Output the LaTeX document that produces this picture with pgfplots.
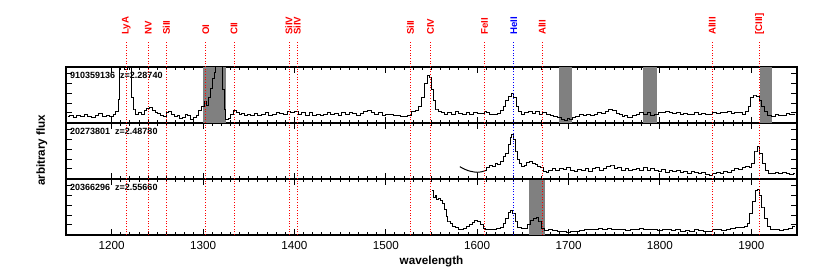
\documentclass[border=0pt]{standalone}
\usepackage{fontspec}
\setmainfont{Liberation Sans}
\usepackage{pgfplots}
\pgfplotsset{compat=1.18}

\pgfplotstableread{
x y
1152 0.12
1156 0.14
1160 0.10
1164 0.13
1168 0.11
1172 0.15
1176 0.12
1180 0.10
1184 0.13
1188 0.17
1192 0.12
1196 0.14
1200 0.11
1203 0.16
1206 0.20
1208 0.42
1210 1.3
1213 1.4
1216 0.95
1218 1.5
1221 1.2
1223 0.45
1225 0.25
1228 0.16
1231 0.18
1234 0.15
1237 0.22
1240 0.26
1243 0.27
1246 0.22
1249 0.18
1252 0.17
1255 0.14
1258 0.12
1261 0.18
1264 0.20
1267 0.15
1270 0.11
1273 0.14
1276 0.08
1279 0.10
1282 0.16
1285 0.14
1288 0.07
1291 0.10
1294 0.14
1297 0.22
1300 0.30
1303 0.38
1305 0.32
1307 0.45
1309 0.62
1311 0.80
1313 0.90
1315 1.2
1318 1.3
1320 1.1
1322 0.60
1324 0.25
1326 0.06
1329 0.08
1332 0.16
1335 0.22
1338 0.19
1341 0.15
1344 0.17
1347 0.13
1350 0.15
1354 0.14
1358 0.17
1362 0.13
1366 0.15
1370 0.18
1374 0.14
1378 0.16
1382 0.19
1386 0.17
1390 0.15
1394 0.20
1398 0.18
1402 0.21
1406 0.16
1410 0.18
1414 0.14
1418 0.19
1422 0.13
1426 0.15
1430 0.14
1434 0.16
1438 0.18
1442 0.15
1446 0.17
1450 0.14
1454 0.18
1458 0.16
1462 0.19
1466 0.17
1470 0.14
1474 0.17
1478 0.20
1482 0.22
1486 0.18
1490 0.16
1494 0.19
1498 0.14
1502 0.16
1506 0.15
1510 0.14
1514 0.13
1518 0.12
1522 0.11
1526 0.14
1530 0.20
1534 0.22
1538 0.30
1541 0.45
1544 0.70
1547 0.85
1549 0.82
1551 0.60
1553 0.40
1556 0.25
1559 0.20
1562 0.18
1566 0.16
1570 0.19
1574 0.15
1578 0.20
1582 0.17
1586 0.15
1590 0.19
1594 0.16
1598 0.18
1602 0.17
1606 0.17
1609 0.21
1612 0.18
1616 0.15
1620 0.16
1624 0.17
1627 0.22
1630 0.30
1633 0.40
1636 0.48
1639 0.52
1641 0.45
1644 0.30
1647 0.20
1650 0.16
1654 0.18
1658 0.21
1662 0.17
1666 0.20
1670 0.16
1674 0.19
1678 0.15
1682 0.13
1686 0.12
1690 0.10
1694 0.07
1697 0.05
1700 0.08
1703 0.06
1706 0.10
1710 0.12
1714 0.15
1718 0.13
1722 0.16
1726 0.14
1730 0.16
1734 0.18
1738 0.17
1742 0.20
1746 0.24
1750 0.22
1754 0.17
1757 0.15
1760 0.11
1763 0.13
1766 0.09
1769 0.10
1772 0.14
1776 0.16
1780 0.18
1784 0.15
1788 0.18
1792 0.14
1796 0.16
1800 0.19
1804 0.18
1808 0.20
1812 0.18
1816 0.17
1820 0.19
1824 0.16
1828 0.17
1832 0.15
1836 0.16
1840 0.18
1844 0.15
1848 0.17
1852 0.15
1856 0.16
1860 0.18
1864 0.17
1868 0.19
1872 0.18
1876 0.20
1880 0.17
1884 0.19
1888 0.18
1892 0.16
1895 0.20
1898 0.30
1901 0.45
1904 0.50
1907 0.48
1910 0.40
1913 0.30
1916 0.20
1920 0.14
1924 0.12
1928 0.16
1932 0.14
1936 0.13
1940 0.17
1944 0.15
1948 0.16
}\specA

\pgfplotstableread{
x y
1581 0.22
1585 0.185
1590 0.15
1595 0.13
1600 0.12
1605 0.13
1609 0.15
}\specBsmooth

\pgfplotstableread{
x y
1609 0.15
1612 0.20
1615 0.24
1618 0.22
1621 0.28
1624 0.26
1627 0.32
1630 0.40
1633 0.45
1635 0.62
1637 0.75
1639 0.80
1641 0.70
1643 0.50
1645 0.35
1647 0.27
1650 0.22
1653 0.24
1656 0.30
1659 0.32
1662 0.28
1665 0.26
1668 0.22
1671 0.20
1674 0.14
1677 0.11
1680 0.15
1684 0.18
1688 0.16
1692 0.19
1696 0.17
1700 0.20
1704 0.15
1708 0.13
1712 0.17
1716 0.15
1720 0.18
1724 0.14
1728 0.19
1732 0.21
1736 0.16
1740 0.18
1744 0.22
1748 0.25
1752 0.18
1756 0.20
1760 0.16
1764 0.18
1768 0.15
1772 0.17
1776 0.19
1780 0.16
1784 0.20
1788 0.15
1792 0.18
1796 0.16
1800 0.14
1804 0.17
1808 0.12
1812 0.15
1816 0.13
1820 0.16
1824 0.12
1828 0.14
1832 0.10
1836 0.13
1840 0.11
1844 0.09
1848 0.12
1852 0.08
1856 0.07
1860 0.10
1864 0.12
1868 0.09
1872 0.14
1876 0.11
1880 0.15
1884 0.18
1888 0.17
1892 0.20
1896 0.22
1899 0.20
1902 0.28
1905 0.50
1908 0.58
1911 0.45
1914 0.28
1917 0.15
1920 0.09
1924 0.10
1928 0.11
1932 0.09
1936 0.12
1940 0.10
1944 0.08
1948 0.10
}\specB

\pgfplotstableread{
x y
1551 0.80
1553 0.67
1555 0.70
1557 0.64
1559 0.66
1561 0.62
1563 0.56
1565 0.45
1567 0.33
1569 0.25
1572 0.20
1575 0.16
1578 0.13
1581 0.10
1584 0.09
1587 0.12
1590 0.16
1593 0.18
1596 0.22
1599 0.26
1602 0.24
1605 0.18
1608 0.12
1611 0.10
1615 0.09
1619 0.10
1623 0.12
1627 0.14
1630 0.20
1633 0.30
1636 0.40
1638 0.43
1640 0.38
1643 0.25
1646 0.14
1650 0.12
1654 0.12
1657 0.18
1660 0.26
1663 0.30
1666 0.31
1669 0.25
1672 0.12
1676 0.08
1680 0.09
1685 0.08
1690 0.07
1695 0.06
1700 0.05
1705 0.06
1710 0.07
1715 0.08
1720 0.10
1725 0.09
1730 0.10
1735 0.11
1740 0.10
1745 0.12
1750 0.10
1755 0.09
1760 0.10
1765 0.08
1770 0.10
1775 0.09
1780 0.12
1785 0.10
1790 0.09
1795 0.10
1800 0.08
1805 0.09
1810 0.10
1815 0.08
1820 0.09
1825 0.07
1830 0.08
1835 0.07
1840 0.09
1845 0.08
1850 0.07
1855 0.06
1860 0.09
1865 0.10
1870 0.08
1875 0.10
1880 0.12
1885 0.14
1890 0.13
1894 0.15
1897 0.20
1900 0.38
1903 0.60
1906 0.80
1908 0.82
1910 0.70
1913 0.50
1916 0.30
1919 0.15
1923 0.10
1928 0.09
1933 0.08
1938 0.10
1943 0.12
1948 0.15
}\specC

\pgfplotsset{
  panel/.style={
    width=438.6pt, height=33.6pt, scale only axis,
    xmin=1150, xmax=1950, ymin=0, ymax=1,
    anchor=south west,
    axis line style={line width=0.9pt},
    xtick={1200,1300,...,1900}, minor x tick num=9,
    ytick={0.18,0.355,0.53,0.705,0.88}, yticklabels={},
    tick align=inside,
    major tick length=3.5pt, minor tick length=2pt,
    every tick/.style={black, line width=0.6pt},
    tick label style={font=\fontsize{7}{8}\selectfont},
    /pgf/number format/assume math mode=true,
    /pgf/number format/1000 sep={},
  },
  spec/.style={black, line width=0.6pt, const plot mark mid},
  box/.style={fill=gray, draw=none},
}

\begin{document}
\begin{tikzpicture}
\useasboundingbox (-39.6pt,-25.2pt) rectangle (458.4pt,141pt);

% bottom panel
\begin{axis}[panel, at={(0pt,0pt)},
  xlabel={wavelength}, xlabel style={font=\bfseries\fontsize{7}{8}\selectfont, yshift=3pt}]
\addplot[box] coordinates {(1657,1) (1674,1)} \closedcycle;
\addplot[spec] table[x=x,y=y] {\specC};
\node[anchor=north west, font=\bfseries\fontsize{5.4}{7}\selectfont, inner sep=1pt] at (rel axis cs:0.003,0.95) {20366296\ \ z=2.55660};
\end{axis}

% middle panel
\begin{axis}[panel, at={(0pt,33.6pt)}, xticklabels={}]
\addplot[black, line width=0.6pt, smooth] table[x=x,y=y] {\specBsmooth};
\addplot[spec] table[x=x,y=y] {\specB};
\node[anchor=north west, font=\bfseries\fontsize{5.4}{7}\selectfont, inner sep=1pt] at (rel axis cs:0.003,0.95) {20273801\ \ z=2.48780};
\end{axis}

% top panel
\begin{axis}[panel, at={(0pt,67.2pt)}, xticklabels={}]
\addplot[box] coordinates {(1300,1) (1325,1)} \closedcycle;
\addplot[box] coordinates {(1689,1) (1704,1)} \closedcycle;
\addplot[box] coordinates {(1781,1) (1797,1)} \closedcycle;
\addplot[box] coordinates {(1910,1) (1923,1)} \closedcycle;
\addplot[spec] table[x=x,y=y] {\specA};
\node[anchor=north west, font=\bfseries\fontsize{5.4}{7}\selectfont, inner sep=1pt] at (rel axis cs:0.003,0.95) {910359136\ \ z=2.28740};
\end{axis}

% line identifications overlay
\begin{axis}[at={(0pt,0pt)}, anchor=south west, width=438.6pt, height=119.4pt,
  scale only axis, hide axis, clip=false,
  xmin=1150, xmax=1950, ymin=0, ymax=1]
\pgfplotsinvokeforeach{1216,1240,1260,1303,1334,1394,1403,1527,1549,1608,1671,1857,1909}{
  \addplot[red, line width=0.5pt, dash pattern=on 0.6pt off 1pt] coordinates {(#1,0) (#1,0.97)};
}
\addplot[blue, line width=0.5pt, dash pattern=on 0.6pt off 1pt] coordinates {(1640,0) (1640,0.97)};
\begin{scope}[every node/.style={rotate=90, anchor=west, inner sep=0.5pt, text=red, font=\bfseries\fontsize{5.8}{7}\selectfont}]
\node at (axis cs:1216,1) {LyA};
\node at (axis cs:1240,1) {NV};
\node at (axis cs:1260,1) {SiII};
\node at (axis cs:1303,1) {OI};
\node at (axis cs:1334,1) {CII};
\node at (axis cs:1394,1) {SiIV};
\node at (axis cs:1403,1) {SiIV};
\node at (axis cs:1527,1) {SiII};
\node at (axis cs:1549,1) {CIV};
\node at (axis cs:1608,1) {FeII};
\node[text=blue] at (axis cs:1640,1) {HeII};
\node at (axis cs:1671,1) {AlII};
\node at (axis cs:1857,1) {AlIII};
\node at (axis cs:1909,1) {[CIII]};
\end{scope}
\node[rotate=90, font=\bfseries\fontsize{7}{8}\selectfont] at (axis cs:1123.5,0.426) {arbitrary flux};
\end{axis}
\end{tikzpicture}
\end{document}
